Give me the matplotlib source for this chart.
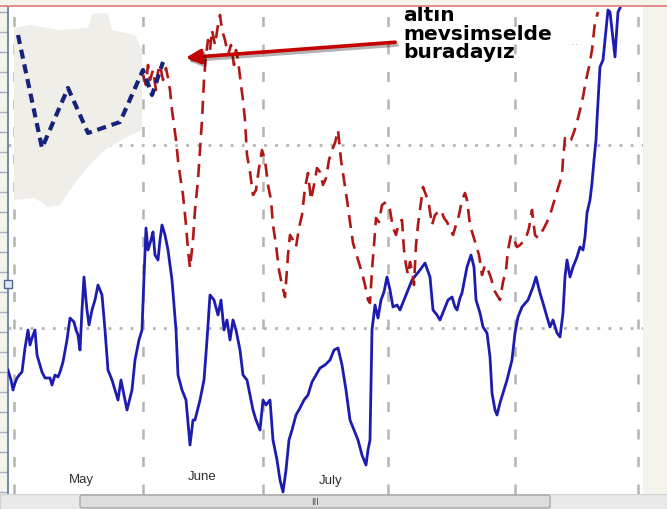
import numpy as np
import matplotlib.pyplot as plt
from matplotlib.patches import Polygon, FancyBboxPatch
from matplotlib.lines import Line2D
import matplotlib.patheffects as pe

# seri 1 (mavi, duz cizgi)
blue_t = [8, 11, 13, 15, 17, 20, 22, 25, 28, 30, 32, 35, 37, 40, 42, 45, 48, 50, 52, 55,
          58, 60, 63, 67, 70, 72, 74, 76, 78, 80, 82, 84, 86, 87, 89, 92, 95, 98, 100, 102,
          105, 108, 112, 115, 118, 121, 124, 127, 130, 132, 135, 139, 142, 144, 146, 148, 151, 153, 155, 158,
          160, 162, 165, 168, 172, 176, 178, 182, 186, 190, 193, 195, 200, 204, 207, 210, 214, 218, 221, 224,
          227, 230, 233, 236, 240, 243, 247, 250, 253, 256, 260, 263, 266, 270, 273, 277, 280, 283, 286, 289,
          292, 296, 300, 304, 308, 312, 316, 320, 325, 330, 334, 338, 342, 346, 350, 354, 358, 362, 366, 368,
          370, 372, 375, 378, 381, 384, 387, 390, 393, 397, 400, 404, 408, 412, 416, 420, 425, 430, 433, 437,
          440, 444, 448, 452, 455, 457, 460, 462, 467, 471, 474, 476, 480, 483, 487, 490, 492, 495, 497, 500,
          503, 507, 512, 515, 518, 522, 528, 533, 536, 540, 543, 547, 550, 553, 557, 560, 563, 565, 567, 570,
          573, 577, 580, 583, 585, 587, 590, 592, 594, 596, 597, 600, 603, 605, 607, 608, 610, 612, 613, 615,
          616, 618, 620]
blue_v = [124, 114, 104, 111, 116, 120, 122, 146, 164, 149, 156, 164, 139, 129, 122, 116, 116, 116, 109, 119,
          117, 122, 132, 154, 176, 174, 172, 164, 159, 144, 184, 217, 194, 184, 169, 184, 194, 209, 204, 199,
          164, 124, 114, 104, 94, 114, 99, 84, 96, 104, 134, 154, 164, 217, 266, 244, 254, 262, 239, 234,
          254, 269, 259, 244, 214, 164, 119, 104, 94, 49, 74, 74, 94, 114, 154, 199, 194, 179, 194, 164,
          174, 154, 174, 164, 144, 119, 114, 99, 84, 74, 64, 94, 89, 94, 54, 34, 14, 2, 24, 54,
          64, 79, 86, 94, 99, 112, 119, 126, 129, 134, 144, 146, 129, 104, 74, 64, 54, 39, 29, 44,
          54, 164, 189, 176, 194, 202, 217, 204, 187, 189, 184, 194, 204, 214, 219, 224, 231, 217, 184, 179,
          174, 184, 194, 197, 187, 184, 196, 201, 227, 239, 227, 194, 181, 167, 161, 137, 101, 84, 79, 91,
          101, 114, 134, 161, 177, 187, 194, 207, 217, 201, 191, 177, 167, 174, 161, 157, 181, 217, 234, 217,
          227, 237, 247, 244, 257, 281, 294, 311, 334, 354, 374, 427, 434, 454, 474, 484, 482, 464, 454, 437,
          454, 482, 486]

# seri 2 (kirmizi, kesik cizgi)
red_t = [143, 146, 148, 150, 153, 156, 158, 160, 163, 166, 168, 170, 172, 174, 176, 178, 180, 183, 186, 188,
         190, 193, 195, 198, 200, 202, 204, 206, 208, 210, 212, 215, 218, 220, 222, 225, 228, 231, 234, 236,
         238, 241, 243, 245, 247, 250, 253, 256, 259, 262, 265, 268, 271, 273, 276, 279, 282, 285, 288, 290,
         293, 296, 299, 302, 305, 308, 311, 314, 317, 320, 323, 326, 329, 332, 335, 338, 341, 344, 347, 350,
         353, 356, 359, 362, 365, 368, 370, 372, 374, 376, 379, 382, 386, 390, 393, 396, 399, 402, 404, 406,
         408, 410, 412, 414, 416, 418, 420, 423, 426, 429, 432, 435, 438, 441, 444, 447, 450, 453, 456, 459,
         462, 465, 467, 470, 473, 476, 479, 482, 485, 488, 491, 494, 497, 500, 503, 506, 508, 511, 514, 517,
         520, 523, 526, 529, 532, 535, 538, 541, 544, 547, 550, 553, 556, 559, 562, 563, 565, 568, 571, 574,
         577, 580, 583, 586, 589, 592, 595, 598]
red_v = [419, 409, 429, 414, 424, 404, 422, 429, 414, 426, 416, 404, 384, 369, 354, 334, 319, 299, 269, 244,
         226, 254, 284, 314, 344, 374, 414, 439, 454, 444, 464, 449, 469, 479, 464, 454, 439, 449, 429, 444,
         434, 409, 394, 374, 339, 322, 299, 304, 326, 344, 334, 309, 294, 269, 249, 224, 209, 197, 239, 259,
         254, 247, 266, 279, 306, 321, 294, 309, 326, 322, 309, 316, 334, 344, 351, 364, 334, 314, 294, 272,
         251, 241, 231, 221, 209, 194, 191, 224, 249, 276, 272, 289, 292, 284, 266, 259, 272, 274, 244, 229,
         219, 232, 224, 209, 249, 269, 284, 307, 299, 289, 269, 279, 282, 284, 276, 272, 266, 259, 269, 279,
         294, 301, 294, 269, 259, 249, 239, 219, 229, 224, 216, 204, 199, 194, 212, 224, 244, 259, 254, 247,
         249, 252, 256, 266, 284, 259, 256, 261, 266, 272, 279, 289, 299, 309, 319, 334, 356, 352, 354, 362,
         372, 384, 397, 414, 427, 444, 472, 482]

# sol ustteki kucuk resim (mevsimsel egri)
inset_t = [18, 42, 68, 88, 120, 143, 152, 157, 163]
inset_v = [459, 346, 406, 361, 372, 424, 399, 414, 432]
blob_t = [14, 14, 30, 60, 88, 92, 108, 112, 135, 142, 142, 125, 105, 85, 70, 60, 48, 35]
blob_v = [294, 466, 469, 464, 466, 480, 481, 464, 459, 444, 364, 356, 344, 324, 304, 289, 287, 296]

month_edges = [14, 143, 263, 388, 515, 638]
months = ['May', 'June', 'July']
month_pos = [(81, 14), (202, 17), (331, 13)]
dotted_levels = [166, 349]

fig = plt.figure(figsize=(6.67, 5.09), dpi=100, facecolor='#f4f3ec')
ax = fig.add_axes([8 / 667, 15 / 509, 635 / 667, 487 / 509])
ax.set_facecolor('white')
ax.set_xlim(8, 643)
ax.set_ylim(0, 487)

for s in ['top', 'right', 'bottom']:
    ax.spines[s].set_visible(False)
ax.spines['left'].set_color('#5878a0')
ax.spines['left'].set_linewidth(1.2)

ax.set_xticks(month_edges)
ax.set_xticklabels([])
ax.tick_params(axis='x', length=0)
ax.set_yticks(np.arange(2, 487, 20))
ax.set_yticklabels([])
ax.tick_params(axis='y', direction='out', length=7, color='#a8b0c0', width=1)
ax.grid(axis='x', color='#b4b4b4', linestyle=(0, (4, 7)), linewidth=1.8)
for lv in dotted_levels:
    ax.axhline(lv, color='#b4b4b4', linestyle=(0, (1, 3)), linewidth=2)

ax.plot(blue_t, blue_v, color='#1c1cb0', linewidth=2.0, zorder=3)
ax.plot(red_t, red_v, color='#b01818', linewidth=1.9, linestyle=(0, (5, 3)), zorder=3)

# resim ve not
ax.add_patch(Polygon(np.column_stack([blob_t, blob_v]), closed=True, fc='#f0eee8', ec='none', zorder=4))
ax.plot(inset_t, inset_v, color='#15237a', linewidth=3, linestyle=(0, (2.2, 1.4)), zorder=5)
ax.annotate('', xy=(183, 436), xytext=(398, 452),
            arrowprops=dict(arrowstyle='-|>', color='#c40000', lw=2.6, mutation_scale=22,
                            path_effects=[pe.SimpleLineShadow(offset=(1.5, -2), alpha=0.3), pe.Normal()]),
            zorder=6)
ax.text(403, 488, 'altın\nmevsimselde\nburadayız', fontsize=14.5, fontweight='bold',
        ha='left', va='top', linespacing=0.98, color='black', zorder=7)
ax.text(572, 449, '. .', fontsize=4, color='#404040')

for m, (x, y) in zip(months, month_pos):
    ax.text(x, y, m, fontsize=9.5, family='Liberation Sans', color='#303030', ha='center', va='center')

ax.plot(8, 210, marker='s', ms=6, mfc='#dde8f4', mec='#4a6a94', clip_on=False, zorder=10)

# ust kirmizi cizgi
fig.add_artist(Line2D([0, 1], [1 - 6 / 509] * 2, transform=fig.transFigure, color='#e07a7a', lw=1.2))

# kaydirma cubugu
sb = fig.add_axes([0, 0, 1, 15 / 509])
sb.set_xlim(0, 667)
sb.set_ylim(0, 15)
sb.axis('off')
sb.add_patch(FancyBboxPatch((0, 0), 667, 15, boxstyle='square,pad=0', fc='#e9e9e9', ec='#d0d0d0', lw=0.8))
sb.add_patch(FancyBboxPatch((80, 1), 470, 13, boxstyle='round,pad=0,rounding_size=2',
                            fc='#dcdcdc', ec='#9a9a9a', lw=0.8))
sb.text(315, 6.5, 'III', fontsize=6.5, ha='center', va='center', color='#505050')

plt.savefig('out.png', dpi=100, facecolor=fig.get_facecolor())
